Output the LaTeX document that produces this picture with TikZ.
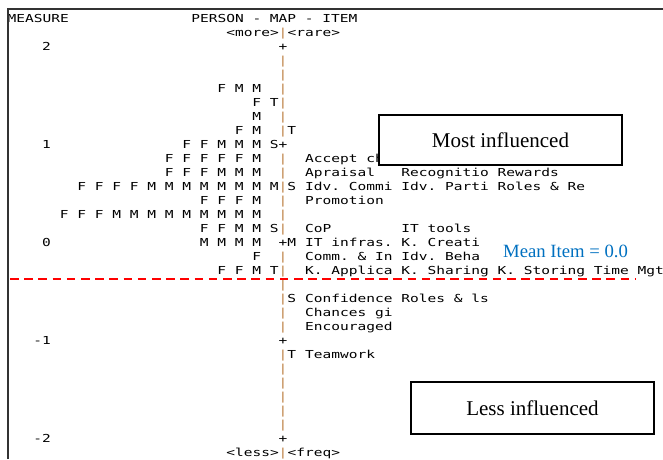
\documentclass[tikz,border=0pt]{standalone}
\usepackage{fontspec}
\setmainfont{Liberation Serif}
\newfontfamily\mapfont[FakeStretch=1.32]{DejaVu Sans Mono}
\usetikzlibrary{positioning}
\frenchspacing

\definecolor{axisbrown}{RGB}{190,130,70}
\definecolor{meanblue}{RGB}{0,112,192}

\tikzset{
  mapchar/.style={font=\mapfont\fontsize{11}{14}\selectfont, inner sep=0pt, anchor=base},
  maptext/.style={mapchar, anchor=base west},
  axisbar/.style={mapchar, text=axisbrown},
  tagbox/.style={draw, fill=white, line width=1.2pt, minimum width=243pt,
    minimum height=50pt, inner sep=0pt, font=\fontsize{21}{24}\selectfont},
}

% centre of a text column / baseline of a text row
\newcommand\gx[1]{283+8.75*(#1)}
\newcommand\gy[1]{22.5+14*(#1)}

\begin{document}
\begin{tikzpicture}[x=1pt, y=-1pt]
  \useasboundingbox (0,0) rectangle (663,459);

  \begin{scope}
    \clip (9.6,0) rectangle (663,459);

    % ---------- header ----------
    \node[maptext] (hmeasure) at ({\gx{-31.5}},{\gy{0}}) {MEASURE};
    \node[maptext] (htitle) at ({\gx{-10.5}},{\gy{0}}) {PERSON - MAP - ITEM};
    \node[maptext] (hmore) at ({\gx{-6.5}},{\gy{1}}) {<more>};
    \node[maptext] (hrare) at ({\gx{0.5}},{\gy{1}}) {<rare>};
    \node[maptext] (hless) at ({\gx{-6.5}},{\gy{31}}) {<less>};
    \node[maptext] (hfreq) at ({\gx{0.5}},{\gy{31}}) {<freq>};

    % ---------- measure scale ----------
    \foreach \n/\val in {2/2, 9/1, 16/0, 23/-1, 30/-2} {
      \node[mapchar, anchor=base east] (m\n) at ({\gx{-26.5}},{\gy{\n}}) {\val};
      \node[mapchar] (t\n) at ({\gx{0}},{\gy{\n}}) {+};
    }
    \foreach \n in {1,3,4,5,6,7,8,10,11,12,13,14,15,17,18,19,20,21,22,24,25,26,27,28,29,31}
      \node[axisbar] (bar\n) at ({\gx{0}},{\gy{\n}}) {|};

    % ---------- persons (left of the axis) ----------
    \foreach \n/\col/\who in {5/-7/{F,M,M}, 6/-3/{F,T}, 7/-3/{M}, 8/-5/{F,M},
        9/-11/{F,F,M,M,M,S}, 10/-13/{F,F,F,F,F,M}, 11/-13/{F,F,F,M,M,M},
        12/-23/{F,F,F,F,M,M,M,M,M,M,M,M}, 13/-9/{F,F,F,M},
        14/-25/{F,F,F,M,M,M,M,M,M,M,M,M}, 15/-9/{F,F,M,M,S},
        16/-9/{M,M,M,M}, 17/-3/{F}, 18/-7/{F,F,M,T}} {
      \foreach \ltr [count=\k from 0] in \who
        \node[mapchar] (p\n-\k) at ({\gx{\col+2*\k}},{\gy{\n}}) {\ltr};
    }

    % ---------- items (right of the axis) ----------
    \foreach \n/\ltr in {8/T, 12/S, 16/M, 20/S, 24/T}
      \node[mapchar] (s\n) at ({\gx{1}},{\gy{\n}}) {\ltr};
    \foreach \n/\col/\txt in {10/3/Accept ch,
        11/3/Apraisal, 11/14/Recognitio, 11/25/Rewards,
        12/3/Idv. Commi, 12/14/Idv. Parti, 12/25/Roles \& Re,
        13/3/Promotion,
        15/3/CoP, 15/14/IT tools,
        16/3/IT infras., 16/14/K. Creati,
        17/3/Comm. \& In, 17/14/Idv. Beha,
        18/3/K. Applica, 18/14/K. Sharing, 18/25/K. Storing, 18/36/Time Mgt,
        20/3/Confidence, 20/14/Roles \& ls,
        21/3/Chances gi,
        22/3/Encouraged,
        24/3/Teamwork}
      \node[maptext] (i\n-\col) at ({\gx{\col-0.5}},{\gy{\n}}) {\txt};
  \end{scope}

  % frame
  \draw[black!80, line width=1.5pt] (8.2,459) -- (8.2,9) -- (663,9);

  % mean of the items
  \draw[red, line width=2pt, dash pattern=on 8.5pt off 5.7pt] (10,279) -- (635,279);
  \node[anchor=base west, inner sep=0pt, text=meanblue, font=\fontsize{18.7}{22}\selectfont]
    (mean) at (503,257) {Mean Item = 0.0};

  \node[tagbox] (most) at (500.5,140) {Most influenced};
  \node[tagbox, minimum height=52pt] (lessinf) at (532.5,408) {Less influenced};
\end{tikzpicture}
\end{document}
